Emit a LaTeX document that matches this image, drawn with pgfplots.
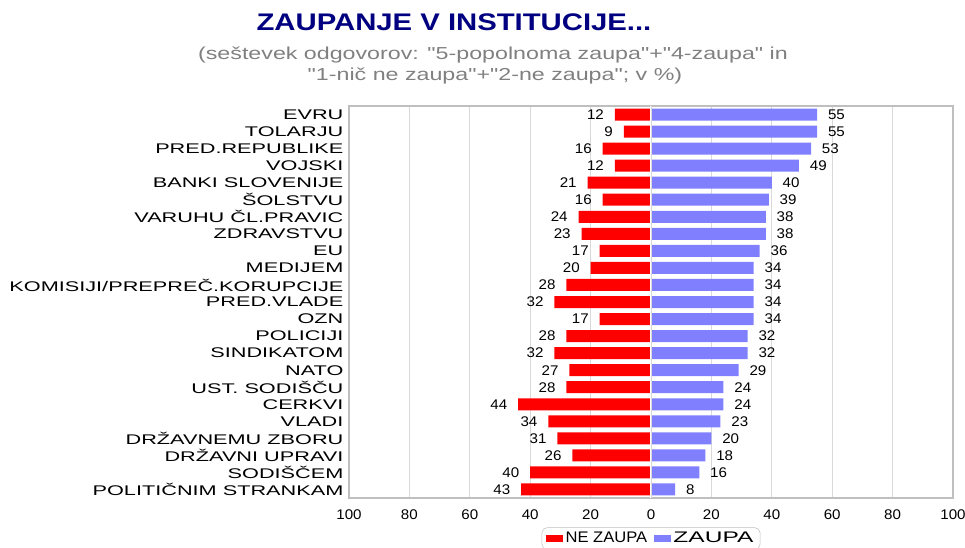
\documentclass[border=0pt]{standalone}
\usepackage{fontspec}
\setmainfont{Liberation Sans}
\newfontfamily\catfont[FakeStretch=1.55]{Liberation Sans}
\newfontfamily\numfont[FakeStretch=1.08]{Liberation Sans}
\newfontfamily\widefont[FakeStretch=1.6]{Liberation Sans}
\newfontfamily\titlefont[FakeStretch=1.22]{Liberation Sans}
\newfontfamily\subfont[FakeStretch=1.34]{Liberation Sans}
\usepackage{pgfplots}
\usepackage{pgfplotstable}
\pgfplotsset{compat=1.18}
\definecolor{titleblue}{HTML}{000080}
\definecolor{subgray}{HTML}{808080}
\definecolor{barred}{HTML}{FF0000}
\definecolor{barblue}{HTML}{8080FF}
\definecolor{gridgray}{HTML}{D9D9D9}
\definecolor{framegray}{HTML}{BFBFBF}

\pgfplotstableread{
idx ne za
0 12 55
1 9 55
2 16 53
3 12 49
4 21 40
5 16 39
6 24 38
7 23 38
8 17 36
9 20 34
10 28 34
11 32 34
12 17 34
13 28 32
14 32 32
15 27 29
16 28 24
17 44 24
18 34 23
19 31 20
20 26 18
21 40 16
22 43 8
}\datatable

\begin{document}
\begin{tikzpicture}
\useasboundingbox (-261.75pt,-36.75pt) rectangle (462pt,373.5pt);
\begin{axis}[
  at={(0,0)}, anchor=south west,
  scale only axis,
  width=453pt, height=294pt,
  xmin=-100, xmax=100,
  ymin=-0.5, ymax=22.5,
  y dir=reverse,
  xbar, bar width=9pt, bar shift=0pt,
  xtick={-100,-80,-60,-40,-20,0,20,40,60,80,100},
  xticklabels={100,80,60,40,20,0,20,40,60,80,100},
  ytick={0,...,22},
  yticklabels={{EVRU},{TOLARJU},{PRED.REPUBLIKE},{VOJSKI},{BANKI SLOVENIJE},{ŠOLSTVU},{VARUHU ČL.PRAVIC},{ZDRAVSTVU},{EU},{MEDIJEM},{KOMISIJI/PREPREČ.KORUPCIJE},{PRED.VLADE},{OZN},{POLICIJI},{SINDIKATOM},{NATO},{UST. SODIŠČU},{CERKVI},{VLADI},{DRŽAVNEMU ZBORU},{DRŽAVNI UPRAVI},{SODIŠČEM},{POLITIČNIM STRANKAM}},
  major tick length=0pt,
  xmajorgrids, grid style={gridgray, line width=0.6pt},
  axis line style={framegray, line width=0.8pt},
  /pgf/number format/assume math mode=true,
  xticklabel style={font=\numfont\fontsize{10.5pt}{12pt}\selectfont, anchor=center, yshift=-12.75pt},
  yticklabel style={font=\catfont\fontsize{10.5pt}{12pt}\selectfont, anchor=east, inner sep=0pt, xshift=-4pt},
  legend columns=2,
  legend style={at={(0.5,0)}, anchor=north, yshift=-22pt, draw=framegray, rounded corners=4pt,
    font=\numfont\fontsize{11.5pt}{13pt}\selectfont, inner xsep=3pt, inner ysep=1.5pt,
    cells={inner xsep=1.5pt},
    /tikz/every even column/.append style={column sep=3pt}},
  legend image code/.code={\fill[#1, sharp corners] (0pt,-2.4pt) rectangle (12.75pt,2.4pt);},
  nodes near coords,
  point meta=explicit,
  every node near coord/.append style={font=\numfont\fontsize{10.5pt}{12pt}\selectfont, text=black, inner sep=0pt},
]
\addplot[fill=barred, draw=none, nodes near coords style={anchor=east, xshift=-8pt}]
  table[x expr=-\thisrow{ne}, y=idx, meta=ne] {\datatable};
\addlegendentry{NE ZAUPA}
\addplot[fill=barblue, draw=none, nodes near coords style={anchor=west, xshift=8pt}]
  table[x=za, y=idx, meta=za] {\datatable};
\addlegendentry{\widefont ZAUPA}
\draw[white, line width=2.2pt] (axis cs:0,-0.5) -- (axis cs:0,22.5);
\draw[gridgray, line width=0.5pt] (axis cs:0,-0.5) -- (axis cs:0,22.5);
\end{axis}
\node[font=\titlefont\bfseries\fontsize{18pt}{21pt}\selectfont, text=titleblue] at (78.75pt,357pt) {ZAUPANJE V INSTITUCIJE...};
\node[font=\subfont\fontsize{13pt}{15pt}\selectfont, text=subgray] at (108pt,332.25pt) {(seštevek odgovorov: "5-popolnoma zaupa"+"4-zaupa" in};
\node[font=\subfont\fontsize{13pt}{15pt}\selectfont, text=subgray] at (109.5pt,316.5pt) {"1-nič ne zaupa"+"2-ne zaupa"; v \%)};
\end{tikzpicture}
\end{document}
